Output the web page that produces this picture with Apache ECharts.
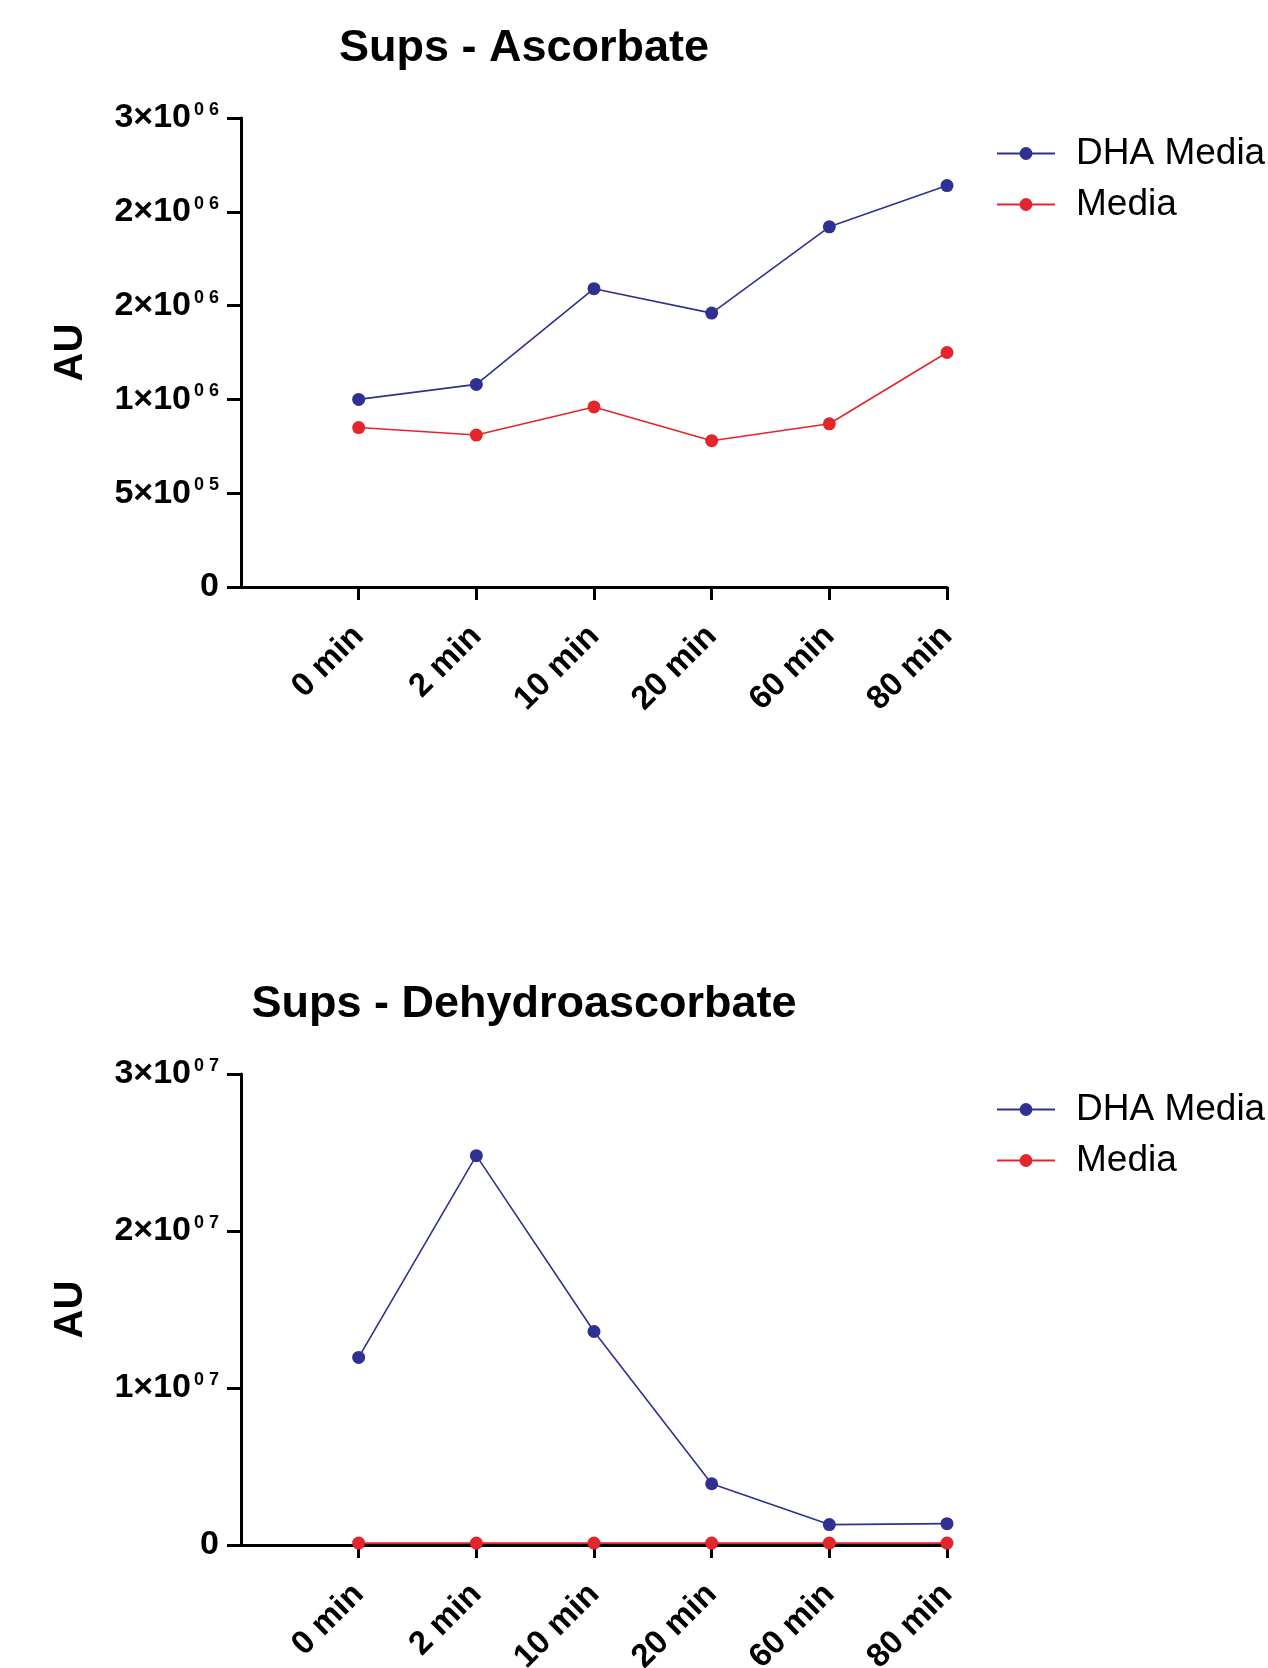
<!DOCTYPE html>
<html>
<head>
<meta charset="utf-8">
<script src="https://cdn.jsdelivr.net/npm/echarts@6/dist/echarts.min.js"></script>
<style>
html,body{margin:0;padding:0;background:#fff;}
#chart{width:1268px;height:1668px;}
</style>
</head>
<body>
<div id="chart"></div>
<script>
// ---- data ----
const categories = ['0 min', '2 min', '10 min', '20 min', '60 min', '80 min'];
const seriesNames = ['DHA Media', 'Media'];
const titles = ['Sups - Ascorbate', 'Sups - Dehydroascorbate'];
const ascorbateDHA = [1.00e6, 1.08e6, 1.59e6, 1.46e6, 1.92e6, 2.14e6];
const ascorbateMedia = [0.85e6, 0.81e6, 0.96e6, 0.78e6, 0.87e6, 1.25e6];
const dehydroDHA = [1.195e7, 2.48e7, 1.36e7, 3.9e6, 1.3e6, 1.36e6];
const dehydroMedia = [1.2e5, 1.2e5, 1.2e5, 1.2e5, 1.2e5, 1.2e5];
const yAxisTop = { min: 0, max: 2.5e6, interval: 5e5 };
const yAxisBottom = { min: 0, max: 3e7, interval: 1e7 };
const yAxisName = 'AU';

const BLUE = '#2E3192';
const RED = '#E3262C';
const FONT = '"Liberation Sans", Arial, Helvetica, sans-serif';

function sciLabel(v) {
  if (v === 0) return '{m|0}';
  const e = Math.floor(Math.log10(v) + 1e-9);
  const m = Math.round(v / Math.pow(10, e));
  return '{m|' + m + '×10}{s|0 ' + e + '}';
}

const xCats = [''].concat(categories);
function pad(arr) { return [null].concat(arr); }

const grids = [
  { left: 241, top: 118, width: 706, height: 469, containLabel: false, outerBoundsMode: 'none' },
  { left: 241, top: 1074, width: 706, height: 471, containLabel: false, outerBoundsMode: 'none' }
];

function xAxis(i) {
  return {
    type: 'category', gridIndex: i, data: xCats, boundaryGap: false,
    axisLine: { lineStyle: { color: '#000', width: 3 } },
    axisTick: { length: 13, lineStyle: { color: '#000', width: 3 }, interval: function (idx) { return idx > 0; } },
    axisLabel: { interval: 0, rotate: 45, margin: 44, color: '#000', fontFamily: FONT, fontWeight: 'bold', fontSize: 33 },
    splitLine: { show: false }
  };
}
function yAxis(i, cfg) {
  return {
    type: 'value', gridIndex: i, min: cfg.min, max: cfg.max, interval: cfg.interval,
    name: yAxisName, nameLocation: 'middle', nameRotate: 90, nameGap: 150, nameMoveOverlap: false,
    nameTextStyle: { color: '#000', fontFamily: FONT, fontWeight: 'bold', fontSize: 40 },
    axisLine: { show: true, lineStyle: { color: '#000', width: 3 } },
    axisTick: { show: true, length: 14, lineStyle: { color: '#000', width: 3 } },
    splitLine: { show: false },
    axisLabel: {
      margin: 22, color: '#000', formatter: sciLabel,
      rich: {
        m: { fontFamily: FONT, fontWeight: 'bold', fontSize: 34, color: '#000' },
        s: { fontFamily: FONT, fontWeight: 'bold', fontSize: 18, color: '#000', verticalAlign: 'top', padding: [0, 0, 0, 3] }
      }
    }
  };
}
function line(name, data, idx, color) {
  return {
    type: 'line', name: name, xAxisIndex: idx, yAxisIndex: idx, data: pad(data),
    symbol: 'circle', symbolSize: 13, color: color,
    lineStyle: { color: color, width: 1.6 }, itemStyle: { color: color },
    connectNulls: false, animation: false, z: 3
  };
}
function legend(top) {
  return {
    data: seriesNames, orient: 'vertical', left: 991, top: top, itemGap: 14,
    itemWidth: 58, itemHeight: 16,
    textStyle: { fontFamily: FONT, fontSize: 37, color: '#000', padding: [0, 0, 0, 16] }
  };
}

const option = {
  backgroundColor: '#fff',
  animation: false,
  title: [
    { text: titles[0], left: 519, top: 21, textAlign: 'center', textStyle: { fontFamily: FONT, fontWeight: 'bold', fontSize: 45, color: '#000' } },
    { text: titles[1], left: 519, top: 977, textAlign: 'center', textStyle: { fontFamily: FONT, fontWeight: 'bold', fontSize: 45, color: '#000' } }
  ],
  legend: [legend(130), legend(1086)],
  grid: grids,
  xAxis: [xAxis(0), xAxis(1)],
  yAxis: [yAxis(0, yAxisTop), yAxis(1, yAxisBottom)],
  series: [
    line(seriesNames[0], ascorbateDHA, 0, BLUE),
    line(seriesNames[1], ascorbateMedia, 0, RED),
    line(seriesNames[0], dehydroDHA, 1, BLUE),
    line(seriesNames[1], dehydroMedia, 1, RED)
  ]
};
const chart = echarts.init(document.getElementById('chart'), null, { renderer: 'canvas' });
chart.setOption(option);
</script>
</body>
</html>
